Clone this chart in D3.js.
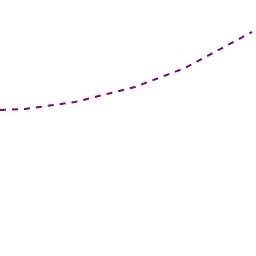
<!DOCTYPE html>
<html><head><meta charset="utf-8">
<script src="https://cdn.jsdelivr.net/npm/d3@7"></script>
<style>html,body{margin:0;padding:0;background:#fff;}svg{display:block;}</style>
</head><body>
<script>
const xValues = [0, 25, 75, 135, 185, 252];
const yValues = [146, 147, 154, 169, 188, 224];

const W = 256, H = 256;
const svg = d3.select("body").append("svg").attr("width", W).attr("height", H);
const x = d3.scaleLinear().domain([0, 256]).range([0, W]);
const y = d3.scaleLinear().domain([0, 256]).range([H, 0]);
const data = xValues.map((v, i) => ({x: v, y: yValues[i]}));
svg.append("path")
  .datum(data)
  .attr("fill", "none")
  .attr("stroke", "#800080")
  .attr("stroke-width", 2)
  .attr("stroke-dasharray", "6,6")
  .attr("d", d3.line().x(d => x(d.x)).y(d => y(d.y)));
</script>
</body></html>
